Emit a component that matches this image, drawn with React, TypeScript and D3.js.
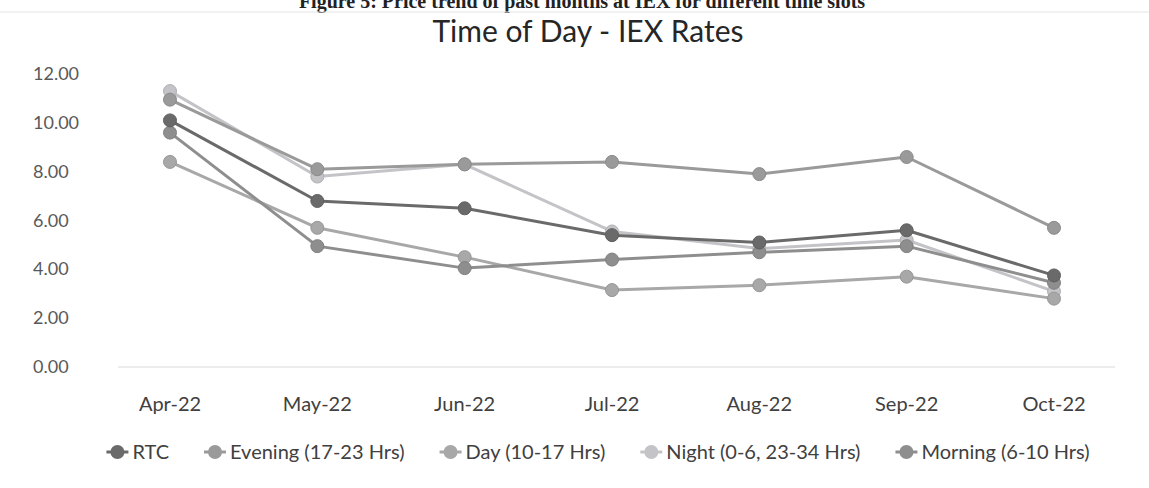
import { useEffect, useRef } from "react";
import * as d3 from "d3";

const months = ["Apr-22", "May-22", "Jun-22", "Jul-22", "Aug-22", "Sep-22", "Oct-22"];
const seriesNames = ["RTC", "Evening (17-23 Hrs)", "Day (10-17 Hrs)", "Night (0-6, 23-34 Hrs)", "Morning (6-10 Hrs)"];
const rtc = [10.1, 6.8, 6.5, 5.4, 5.1, 5.6, 3.75];
const evening = [10.95, 8.1, 8.3, 8.4, 7.9, 8.6, 5.7];
const day = [8.4, 5.7, 4.5, 3.15, 3.35, 3.7, 2.8];
const night = [11.3, 7.8, 8.3, 5.55, 4.85, 5.2, 3.1];
const morning = [9.6, 4.95, 4.05, 4.4, 4.7, 4.95, 3.45];
const yTicks = [0, 2, 4, 6, 8, 10, 12];
const colors = ["#6a6a6a", "#9a9a9a", "#a8a8a8", "#c4c4c8", "#8e8e8e"];

const FONT = "Lato, 'Open Sans', sans-serif";

function createChart(svgEl: SVGSVGElement) {
  const width = 1149;
  const height = 488;
  const svg = d3.select(svgEl).attr("width", width).attr("height", height);
  svg.selectAll("*").remove();

  svg.append("rect").attr("width", width).attr("height", height).attr("fill", "#fff");

  // scanned page header, only its lower part shows in the crop
  svg.append("text")
    .attr("x", 582).attr("y", 8)
    .attr("text-anchor", "middle")
    .attr("font-family", "'Liberation Serif', serif")
    .attr("font-weight", "bold")
    .attr("font-size", 20)
    .attr("fill", "#222")
    .text("Figure 5: Price trend of past months at IEX for different time slots");

  // faint chart frame
  svg.append("line").attr("x1", 0).attr("x2", width).attr("y1", 12).attr("y2", 12)
    .attr("stroke", "#e4e4e4").attr("stroke-width", 1);

  const x = d3.scalePoint().domain(months).range([170, 1054]);
  const y = d3.scaleLinear().domain([0, 12]).range([367, 74]);

  svg.append("text")
    .attr("x", 588).attr("y", 42)
    .attr("text-anchor", "middle")
    .attr("font-family", FONT)
    .attr("font-size", 30)
    .attr("fill", "#262626")
    .text("Time of Day - IEX Rates");

  // y tick labels
  svg.append("g").selectAll("text").data(yTicks).join("text")
    .attr("x", 33).attr("y", d => y(d) + 6)
    .attr("font-family", FONT)
    .attr("font-size", 18)
    .attr("fill", "#595959")
    .text(d => d.toFixed(2));

  // baseline
  svg.append("line")
    .attr("x1", 118).attr("x2", 1115)
    .attr("y1", y(0)).attr("y2", y(0))
    .attr("stroke", "#d9d9d9").attr("stroke-width", 1);

  // x labels
  svg.append("g").selectAll("text").data(months).join("text")
    .attr("x", d => x(d)!).attr("y", 411)
    .attr("text-anchor", "middle")
    .attr("font-family", FONT)
    .attr("font-size", 20)
    .attr("fill", "#404040")
    .text(d => d);

  const allSeries = [rtc, evening, day, night, morning];
  const line = d3.line<number>().x((_, i) => x(months[i])!).y(d => y(d));

  // light ones first, RTC last on top
  const order = [3, 2, 1, 4, 0];
  order.forEach(si => {
    const g = svg.append("g");
    g.append("path")
      .datum(allSeries[si])
      .attr("fill", "none")
      .attr("stroke", colors[si])
      .attr("stroke-width", 3)
      .attr("stroke-linejoin", "round")
      .attr("d", line);
    g.selectAll("circle").data(allSeries[si]).join("circle")
      .attr("cx", (_, i) => x(months[i])!)
      .attr("cy", d => y(d))
      .attr("r", 6.5)
      .attr("fill", colors[si])
      .attr("stroke", d3.color(colors[si])!.darker(0.3).toString())
      .attr("stroke-width", 1);
  });

  // legend, centred
  const legend = svg.append("g");
  const items = legend.selectAll("g").data(seriesNames).join("g");
  items.append("line")
    .attr("x1", 0).attr("x2", 22).attr("y1", 0).attr("y2", 0)
    .attr("stroke", (_, i) => colors[i]).attr("stroke-width", 3);
  items.append("circle")
    .attr("cx", 11).attr("cy", 0).attr("r", 7)
    .attr("fill", (_, i) => colors[i]);
  items.append("text")
    .attr("x", 26).attr("y", 7)
    .attr("font-family", FONT)
    .attr("font-size", 20)
    .attr("fill", "#404040")
    .text(d => d);

  const widths: number[] = [];
  items.each(function () {
    widths.push((this as SVGGElement).getBBox().width);
  });
  const gap = 35;
  const total = d3.sum(widths) + gap * (widths.length - 1);
  let cx = 598 - total / 2;
  items.attr("transform", (_, i) => {
    const t = `translate(${cx},452)`;
    cx += widths[i] + gap;
    return t;
  });
}

export default function App() {
  const ref = useRef<SVGSVGElement>(null);
  useEffect(() => {
    if (ref.current) createChart(ref.current);
  }, []);
  return (
    <svg ref={ref} style={{ position: "absolute", left: 0, top: 0, display: "block" }} />
  );
}
